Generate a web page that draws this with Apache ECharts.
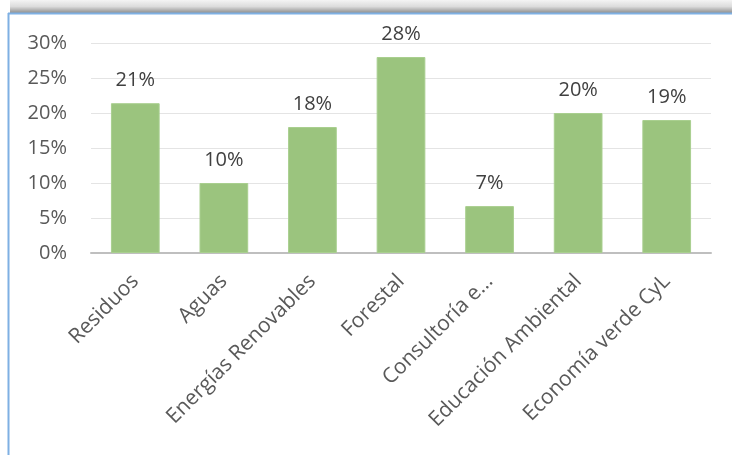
<!DOCTYPE html>
<html>
<head>
<meta charset="utf-8">
<script src="https://cdn.jsdelivr.net/npm/echarts@6/dist/echarts.min.js"></script>
<style>
  html, body { margin: 0; padding: 0; background: #fff; }
  #chart { width: 732px; height: 455px; }
</style>
</head>
<body>
<div id="chart"></div>
<script>
// Share of green employment by sector
const categories = ['Residuos', 'Aguas', 'Energías Renovables', 'Forestal', 'Consultoría e…', 'Educación Ambiental', 'Economía verde CyL'];
const shares = [0.214, 0.10, 0.18, 0.28, 0.067, 0.20, 0.19];
const yTicks = [0, 0.05, 0.10, 0.15, 0.20, 0.25, 0.30];

const FONT = '"Open Sans", sans-serif';
const chart = echarts.init(document.getElementById('chart'), null, { renderer: 'canvas' });

chart.setOption({
  animation: false,
  backgroundColor: '#ffffff',
  textStyle: { fontFamily: FONT },
  graphic: [
    // shaded band and frame edges of the chart box
    {
      type: 'rect', left: 10, top: 0, silent: true,
      shape: { width: 722, height: 13 },
      style: {
        fill: new echarts.graphic.LinearGradient(0, 0, 0, 1, [
          { offset: 0, color: '#f4f4f4' },
          { offset: 0.5, color: '#dcdcdc' },
          { offset: 1, color: '#8e8e8e' }
        ])
      }
    },
    {
      type: 'line', silent: true,
      shape: { x1: 8, y1: 13.5, x2: 732, y2: 13.5 },
      style: { stroke: '#7fb0e3', lineWidth: 2 }
    },
    {
      type: 'line', silent: true,
      shape: { x1: 8.5, y1: 13, x2: 8.5, y2: 455 },
      style: { stroke: '#7fb0e3', lineWidth: 2 }
    }
  ],
  grid: { left: 91, right: 21, top: 43, bottom: 202, containLabel: false },
  xAxis: {
    type: 'category',
    data: categories,
    axisLine: { show: true, lineStyle: { color: '#bfbfbf', width: 2 } },
    axisTick: { show: false },
    axisLabel: {
      interval: 0,
      rotate: 45,
      margin: 25,
      color: '#595959',
      fontSize: 21,
      fontFamily: FONT
    }
  },
  yAxis: {
    type: 'value',
    min: 0,
    max: 0.30,
    interval: 0.05,
    axisLine: { show: false },
    axisTick: { show: false },
    splitLine: { lineStyle: { color: '#e4e4e4', width: 1 } },
    axisLabel: {
      margin: 24,
      color: '#595959',
      fontSize: 20,
      fontFamily: FONT,
      formatter: v => {
        const t = yTicks.find(x => Math.abs(x - v) < 1e-9);
        return Math.round((t !== undefined ? t : v) * 100) + '%';
      }
    }
  },
  series: [{
    type: 'bar',
    data: shares,
    barCategoryGap: '45%',
    itemStyle: { color: '#9bc47e', borderColor: '#a9cf8f', borderWidth: 1 },
    label: {
      show: true,
      position: 'top',
      distance: 13,
      color: '#404040',
      fontSize: 20,
      fontFamily: FONT,
      formatter: p => Math.round(p.value * 100) + '%'
    }
  }]
});
</script>
</body>
</html>
